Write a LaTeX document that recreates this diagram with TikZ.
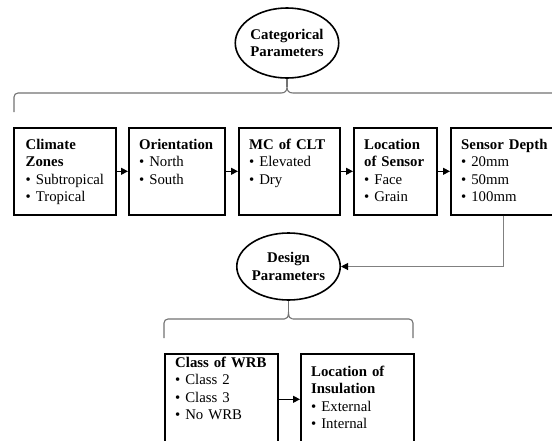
\documentclass[tikz,border=0pt]{standalone}
\usepackage{fontspec}
\setmainfont{Liberation Serif}
\usepackage{tikz}
\usetikzlibrary{arrows.meta,shapes.geometric}

\tikzset{
  box/.style={draw, line width=1.6pt, rectangle, anchor=north west, inner sep=0pt},
  txt/.style={anchor=base west, inner sep=0pt, align=left, text width=110pt,
    font=\fontsize{14.8}{17.5}\selectfont},
  par/.style={draw, line width=1.6pt, ellipse, inner sep=0pt, align=center,
    font=\fontsize{14.8}{17.5}\selectfont\bfseries},
  brc/.style={draw=black!55, line width=1.1pt},
  arr/.style={line width=1.1pt, -{Triangle[length=7pt,width=7pt]}},
  conn/.style={draw=black!50, line width=1.1pt, -{Triangle[length=7pt,width=7pt,color=black]}}
}

\begin{document}
\begin{tikzpicture}[x=1pt, y=-1pt]
\useasboundingbox[fill=white] (0,0) rectangle (552,440);

% categorical parameters
\node[par, minimum width=86pt, minimum height=70pt] (catpar) at (287,43) {Categorical\\Parameters};
\coordinate (catpeak) at (287,87);
\draw[brc, rounded corners=4pt] (14,112) -- (14,93) -- (281,93);
\draw[brc] (281,93) .. controls (285,93) and (287,91) .. (catpeak)
    .. controls (287,91) and (289,93) .. (293,93) -- (562,93);
\draw[brc] (catpar.south) -- (catpeak);

\node[box, minimum width=102pt, minimum height=87pt] (clim) at (13,127) {};
\node[box, minimum width=96pt, minimum height=87pt] (orient) at (128,127) {};
\node[box, minimum width=101pt, minimum height=87pt] (mc) at (238,127) {};
\node[box, minimum width=83pt, minimum height=87pt] (loc) at (353,127) {};
\node[box, minimum width=106pt, minimum height=87pt] (depth) at (450,127) {};

\node[txt] (climtxt) at (25.5,149) {\textbf{Climate}\\\textbf{Zones}\\• Subtropical\\• Tropical};
\node[txt] (orienttxt) at (139,149) {\textbf{Orientation}\\• North\\• South};
\node[txt] (mctxt) at (249,149) {\textbf{MC of CLT}\\• Elevated\\• Dry};
\node[txt] (loctxt) at (364,149) {\textbf{Location}\\\textbf{of Sensor}\\• Face\\• Grain};
\node[txt] (depthtxt) at (461,149) {\textbf{Sensor Depth}\\• 20mm\\• 50mm\\• 100mm};

\draw[arr] (clim) -- (orient);
\draw[arr] (orient) -- (mc);
\draw[arr] (mc) -- (loc);
\draw[arr] (loc) -- (depth);

% design parameters
\node[par, minimum width=89pt, minimum height=67pt] (despar) at (288.5,266.5) {Design\\Parameters};
\draw[conn] (depth.south) |- (despar.east);

\coordinate (despeak) at (288.5,312);
\draw[brc, rounded corners=4pt] (164,338) -- (164,319) -- (284.5,319);
\draw[brc, rounded corners=4pt] (292.5,319) -- (413,319) -- (413,338);
\draw[brc] (284.5,319) .. controls (287,319) and (288.5,317) .. (despeak)
    .. controls (288.5,317) and (290,319) .. (292.5,319);
\draw[brc] (despar.south) -- (despeak);

\node[box, minimum width=113pt, minimum height=91pt] (wrb) at (164,353) {};
\node[box, minimum width=113pt, minimum height=91pt] (insul) at (300,353) {};

\node[txt] (wrbtxt) at (175,367) {\textbf{Class of WRB}\\• Class 2\\• Class 3\\• No WRB};
\node[txt] (insultxt) at (311,376) {\textbf{Location of}\\\textbf{Insulation}\\• External\\• Internal};

\draw[arr] (wrb) -- (insul);
\end{tikzpicture}
\end{document}
